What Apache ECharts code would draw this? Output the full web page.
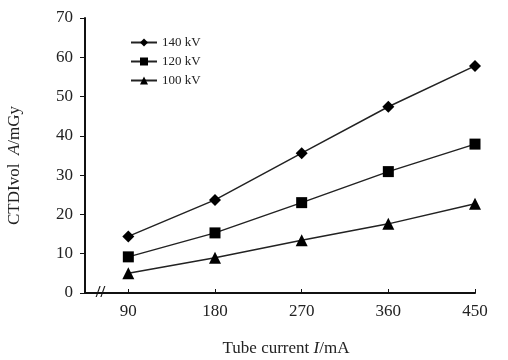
<!DOCTYPE html>
<html>
<head>
<meta charset="utf-8">
<script src="https://cdn.jsdelivr.net/npm/echarts@6/dist/echarts.min.js"></script>
<style>
html, body { margin: 0; padding: 0; background: #fff; }
#chart { width: 508px; height: 360px; }
</style>
</head>
<body>
<div id="chart"></div>
<script>
// tube current (mA) and CTDIvol (mGy) per tube voltage
var currents = [90, 180, 270, 360, 450];
var kv140 = [14.4, 23.7, 35.6, 47.4, 57.8];
var kv120 = [9.2, 15.3, 23.0, 30.9, 37.9];
var kv100 = [5.0, 9.0, 13.4, 17.6, 22.7];

var serif = '"Liberation Serif", "DejaVu Serif", serif';

function pairs(vals) {
    return currents.map(function (c, i) { return [c, vals[i]]; });
}

function lineSeries(name, vals, symbol, size) {
    return {
        name: name,
        type: 'line',
        data: pairs(vals),
        symbol: symbol,
        symbolSize: size,
        lineStyle: { color: '#222', width: 1.5 },
        itemStyle: { color: '#000' },
        emphasis: { disabled: true }
    };
}

var myChart = echarts.init(document.getElementById('chart'), null, { renderer: 'canvas' });
var option = {
    animation: false,
    backgroundColor: '#fff',
    textStyle: { fontFamily: serif },
    grid: { left: 85, right: 33, top: 18, bottom: 67, outerBoundsMode: 'none' },
    legend: {
        orient: 'vertical',
        left: 125,
        top: 31,
        itemWidth: 26,
        itemHeight: 10,
        itemGap: 6,
        textStyle: { fontFamily: serif, fontSize: 13, color: '#222' },
        data: ['140 kV', '120 kV', '100 kV']
    },
    xAxis: {
        type: 'value',
        min: 45,
        max: 450,
        name: '{r|Tube current }{i|I}{r|/mA}',
        nameLocation: 'middle',
        nameGap: 47,
        nameTextStyle: {
            padding: [0, 0, 0, 12],
            rich: {
                r: { fontFamily: serif, fontSize: 17, color: '#222' },
                i: { fontFamily: serif, fontSize: 17, color: '#222', fontStyle: 'italic' }
            }
        },
        axisLine: { lineStyle: { color: '#111', width: 2 } },
        axisTick: { inside: true, length: 4, customValues: currents, lineStyle: { color: '#111' } },
        axisLabel: { customValues: currents, fontFamily: serif, fontSize: 17, color: '#222', margin: 10 },
        splitLine: { show: false }
    },
    yAxis: {
        type: 'value',
        min: 0,
        max: 70,
        interval: 10,
        name: '{r|CTDIvol  }{i|A}{r|/mGy}',
        nameLocation: 'middle',
        nameGap: 62,
        nameRotate: 90,
        nameTextStyle: {
            padding: [0, 20, 0, 0],
            rich: {
                r: { fontFamily: serif, fontSize: 17, color: '#222' },
                i: { fontFamily: serif, fontSize: 17, color: '#222', fontStyle: 'italic' }
            }
        },
        axisLine: { show: true, lineStyle: { color: '#111', width: 2 } },
        axisTick: { show: true, length: 5, lineStyle: { color: '#111' } },
        axisLabel: { fontFamily: serif, fontSize: 17, color: '#222', margin: 12 },
        splitLine: { show: false }
    },
    series: [
        lineSeries('140 kV', kv140, 'diamond', 12),
        lineSeries('120 kV', kv120, 'rect', 11),
        lineSeries('100 kV', kv100, 'triangle', 12)
    ]
};
myChart.setOption(option);

// axis break mark "//" on the x axis
var p = myChart.convertToPixel({ gridIndex: 0 }, [61, 0]);
myChart.setOption({
    graphic: [{
        type: 'text',
        x: p[0],
        y: p[1],
        style: {
            text: '//',
            fontFamily: serif,
            fontSize: 17,
            fontWeight: 'bold',
            fill: '#111',
            align: 'center',
            verticalAlign: 'middle',
            backgroundColor: '#fff'
        }
    }]
});
</script>
</body>
</html>
